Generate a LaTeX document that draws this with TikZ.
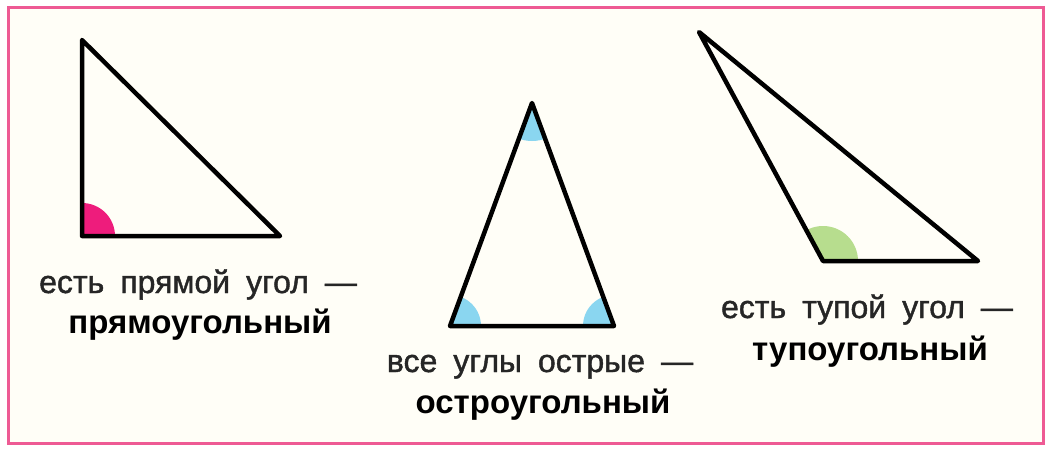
\documentclass[tikz,border=0pt]{standalone}
\usepackage{fontspec}
\setmainfont[WordSpace={1.8,1,1}]{Liberation Sans}
\newfontfamily\medfont[WordSpace={1.8,1,1},FakeBold=1.3]{Liberation Sans}
\definecolor{framepink}{HTML}{EE5A94}
\definecolor{cream}{HTML}{FFFEF7}
\definecolor{rightpink}{HTML}{EE1C7C}
\definecolor{acuteblue}{HTML}{8AD6F0}
\definecolor{obtusegreen}{HTML}{B7DD8E}
\begin{document}
\begin{tikzpicture}[x=1pt,y=-1pt,
  frame/.style={draw=framepink,line width=3pt},
  tri/.style={draw=black,line width=4.5pt,line join=round},
  lineone/.style={anchor=base,inner sep=0pt,text=black!85,font=\medfont\fontsize{32}{36}\selectfont},
  linetwo/.style={anchor=base,inner sep=0pt,font=\fontsize{33}{38}\selectfont\bfseries}]
\useasboundingbox (0,0) rectangle (1054,452);
\fill[white] (0,0) rectangle (1054,452);
\draw[frame,fill=cream] (8,8) rectangle (1043,443);
% right triangle
\coordinate (ra) at (82,40);
\coordinate (rb) at (82,236);
\coordinate (rc) at (280,236);
\begin{scope}
  \clip (ra) -- (rb) -- (rc) -- cycle;
  \fill[rightpink] (rb) circle (33pt);
\end{scope}
\draw[tri] (ra) -- (rb) -- (rc) -- cycle;
% acute triangle
\coordinate (aa) at (532,103);
\coordinate (ab) at (450,326);
\coordinate (ac) at (614,326);
\begin{scope}
  \clip (aa) -- (ab) -- (ac) -- cycle;
  \fill[acuteblue] (aa) circle (38pt);
  \fill[acuteblue] (ab) circle (31pt);
  \fill[acuteblue] (ac) circle (31pt);
\end{scope}
\draw[tri] (aa) -- (ab) -- (ac) -- cycle;
% obtuse triangle
\coordinate (oa) at (699,32);
\coordinate (ob) at (823,261);
\coordinate (oc) at (978,261);
\begin{scope}
  \clip (oa) -- (ob) -- (oc) -- cycle;
  \fill[obtusegreen] (ob) circle (35pt);
\end{scope}
\draw[tri] (oa) -- (ob) -- (oc) -- cycle;
% labels
\node[lineone] (l1a) at (198,293) {есть прямой угол —};
\node[linetwo] (l1b) at (200,333) {прямоугольный};
\node[lineone] (l2a) at (540,372) {все углы острые —};
\node[linetwo] (l2b) at (543,413) {остроугольный};
\node[lineone] (l3a) at (867,318) {есть тупой угол —};
\node[linetwo] (l3b) at (870,360) {тупоугольный};
\end{tikzpicture}
\end{document}
